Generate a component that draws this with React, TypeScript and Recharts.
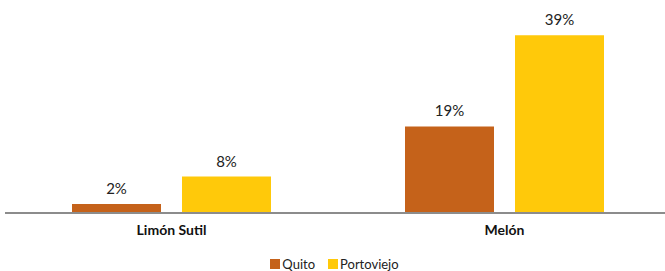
import React from "react";
import { BarChart, Bar, XAxis, YAxis, LabelList, Legend } from "recharts";

const categories = ["Limón Sutil", "Melón"];
const quito = [2, 19];
const portoviejo = [8, 39];
const seriesNames = ["Quito", "Portoviejo"];
const seriesColors = ["#C5621A", "#FFC90A"];

const data = categories.map((c, i) => ({ name: c, Quito: quito[i], Portoviejo: portoviejo[i] }));

const FONT = "Lato, 'Open Sans', sans-serif";

const LegendContent = () => (
  <div style={{ display: "flex", justifyContent: "center", paddingTop: 3, paddingLeft: 6, fontSize: 13, fontFamily: FONT, color: "#222", lineHeight: "12px" }}>
    {seriesNames.map((n, i) => (
      <span key={n} style={{ display: "inline-flex", alignItems: "center", marginRight: 13 }}>
        <span style={{ display: "inline-block", width: 10, height: 10, background: seriesColors[i], marginRight: 2 }} />
        {n}
      </span>
    ))}
  </div>
);

export default function App() {
  return (
    <div style={{ position: "absolute", left: 0, top: 0, fontFamily: FONT }}>
      <BarChart
        width={665}
        height={271}
        data={data}
        margin={{ top: 8, right: -6, bottom: 0, left: 5 }}
        barGap={21}
        barSize={89}
      >
        <YAxis hide domain={[0, 45]} />
        <XAxis
          dataKey="name"
          axisLine={{ stroke: "#8c8c8c", strokeWidth: 2 }}
          tickLine={false}
          tick={{ fontSize: 14, fontWeight: 700, fill: "#111", fontFamily: FONT }}
          tickMargin={6}
          height={42}
        />
        <Legend verticalAlign="bottom" height={16} content={<LegendContent />} />
        <Bar dataKey="Quito" fill={seriesColors[0]} isAnimationActive={false}>
          <LabelList dataKey="Quito" position="top" offset={10} formatter={(v: number) => `${v}%`} style={{ fontSize: 15, fill: "#222", fontFamily: FONT }} />
        </Bar>
        <Bar dataKey="Portoviejo" fill={seriesColors[1]} isAnimationActive={false}>
          <LabelList dataKey="Portoviejo" position="top" offset={10} formatter={(v: number) => `${v}%`} style={{ fontSize: 15, fill: "#222", fontFamily: FONT }} />
        </Bar>
      </BarChart>
    </div>
  );
}
